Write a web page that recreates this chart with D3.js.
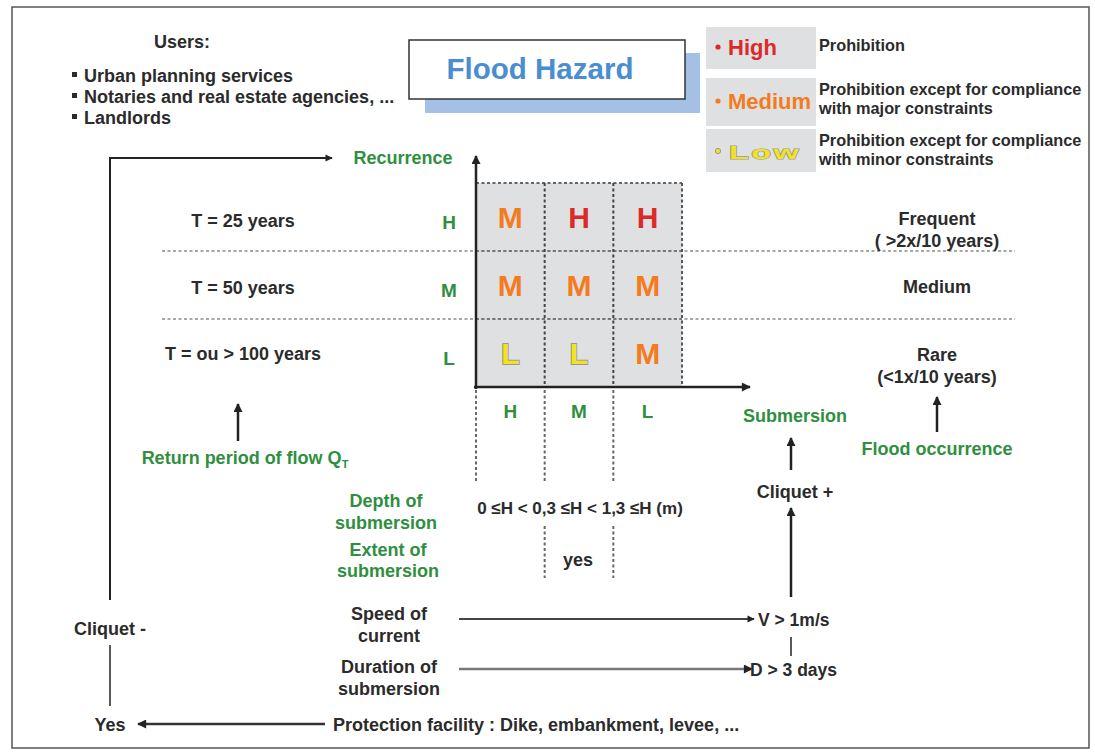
<!DOCTYPE html>
<html><head><meta charset="utf-8">
<script src="https://cdn.jsdelivr.net/npm/d3@7"></script>
<style>
body{margin:0;background:#fff;}
svg text{font-family:"Liberation Sans",Arial,sans-serif;font-weight:bold;}
</style></head>
<body><svg id="c" width="1095" height="752"></svg>
<script>
// ---- data ----
const users = ["Urban planning services","Notaries and real estate agencies, ...","Landlords"];
const recurrence = ["H","M","L"];          // rows, top to bottom
const submersion = ["H","M","L"];          // columns, left to right
const hazard = [["M","H","H"],["M","M","M"],["L","L","M"]];
const returnPeriods = ["T = 25 years","T = 50 years","T = ou > 100 years"];
const occurrence = [["Frequent","( >2x/10 years)"],["Medium"],["Rare","(<1x/10 years)"]];
const legendLevels = ["High","Medium","Low"];
const legendDesc = [["Prohibition"],["Prohibition except for compliance","with major constraints"],["Prohibition except for compliance","with minor constraints"]];
const levelColor = {H:"#dc2a2a", M:"#f47b20", L:"#f2e41c"};
const legendColor = ["#dc2a2a","#f47b20","#f2e41c"];

const svg = d3.select("#c");
const dark = "#2b2b2b", green = "#2f8f3f";

const defs = svg.append("defs");
defs.append("marker").attr("id","ah").attr("viewBox","0 0 10 10").attr("refX",9).attr("refY",5)
  .attr("markerWidth",5).attr("markerHeight",3.6).attr("orient","auto-start-reverse")
  .attr("markerUnits","strokeWidth")
  .append("path").attr("d","M0,0L10,5L0,10z").attr("fill","#222");

function txt(s,x,y,opt){
  opt = opt||{};
  return svg.append("text").attr("x",x).attr("y",y).attr("text-anchor",opt.anchor||"middle")
    .attr("font-size",opt.size||18).attr("fill",opt.fill||dark).text(s);
}
function arrow(x1,y1,x2,y2,w,col){
  return svg.append("line").attr("x1",x1).attr("y1",y1).attr("x2",x2).attr("y2",y2)
    .attr("stroke",col||"#222").attr("stroke-width",w||2.5).attr("marker-end","url(#ah)");
}

// outer border
svg.append("rect").attr("x",12).attr("y",7).attr("width",1077).attr("height",741)
  .attr("fill","none").attr("stroke","#555").attr("stroke-width",1.5);

// users block
txt("Users:",182,48);
users.forEach((u,i)=>{
  svg.append("rect").attr("x",72).attr("y",72+i*21).attr("width",5).attr("height",5).attr("fill",dark);
  txt(u,84,81.5+i*21,{anchor:"start"});
});

// Flood Hazard title box
svg.append("rect").attr("x",425).attr("y",53).attr("width",275).attr("height",60).attr("fill","#a4c0e4");
svg.append("rect").attr("x",409).attr("y",40).attr("width",276).attr("height",59).attr("fill","#fff")
  .attr("stroke","#333").attr("stroke-width",1.5);
txt("Flood Hazard",540,79,{size:29.5,fill:"#4a8dd0"});

// legend
const lgY = [27,78,129], lgH=[42,48,43], lgBase=[55,109,159];
legendLevels.forEach((lv,i)=>{
  svg.append("rect").attr("x",706).attr("y",lgY[i]).attr("width",110).attr("height",lgH[i]).attr("fill","#dfe0e2");
  svg.append("circle").attr("cx",718).attr("cy",lgBase[i]-8).attr("r",2.6).attr("fill",legendColor[i])
    .attr("stroke",i===2?"#999":"none");
  if(i===2){
    svg.append("text").attr("transform",`translate(729,${lgBase[i]}) scale(1.7,1)`)
      .attr("font-size",19).attr("letter-spacing",1.5).attr("fill",legendColor[i])
      .attr("stroke","#999").attr("stroke-width",1.2).attr("paint-order","stroke").text(lv);
  } else txt(lv,728,lgBase[i],{anchor:"start",size:22,fill:legendColor[i]});
  legendDesc[i].forEach((s,j)=>{
    txt(s,819,(legendDesc[i].length===1?51:lgY[i]+17+j*19),{anchor:"start",size:16.3});
  });
});

// matrix scales
const x = d3.scaleBand().domain(submersion).range([476,682]);
const y = d3.scaleBand().domain(recurrence).range([183,387]);
const cx = d=>x(d)+x.bandwidth()/2, cy = d=>y(d)+y.bandwidth()/2;
const dash = "3,2.5";

svg.append("rect").attr("x",476).attr("y",183).attr("width",206).attr("height",204).attr("fill","#dfe0e2");
[1,2].forEach(k=>{
  const yy = y.range()[0]+k*y.step();
  svg.append("line").attr("x1",162).attr("x2",1015).attr("y1",yy).attr("y2",yy)
   .attr("stroke","#a8a8a8").attr("stroke-width",2).attr("stroke-dasharray",dash);
  svg.append("line").attr("x1",476).attr("x2",682).attr("y1",yy).attr("y2",yy)
   .attr("stroke","#777").attr("stroke-width",2).attr("stroke-dasharray",dash);
});
svg.append("line").attr("x1",476).attr("x2",682).attr("y1",183).attr("y2",183).attr("stroke","#666").attr("stroke-width",2).attr("stroke-dasharray",dash);
svg.append("line").attr("x1",682).attr("x2",682).attr("y1",183).attr("y2",387).attr("stroke","#555").attr("stroke-width",2).attr("stroke-dasharray",dash);
submersion.forEach((c,i)=>{
  const xx = x(c);
  if(i>0) svg.append("line").attr("x1",xx).attr("x2",xx).attr("y1",183).attr("y2",387).attr("stroke","#444").attr("stroke-width",2).attr("stroke-dasharray",dash);
  svg.append("line").attr("x1",xx).attr("x2",xx).attr("y1",390).attr("y2",482).attr("stroke","#666").attr("stroke-width",2).attr("stroke-dasharray",dash);
  if(i>0) svg.append("line").attr("x1",xx).attr("x2",xx).attr("y1",526).attr("y2",578).attr("stroke","#666").attr("stroke-width",2).attr("stroke-dasharray",dash);
});
recurrence.forEach((r,ri)=>{
  submersion.forEach((c,ci)=>{
    const v = hazard[ri][ci];
    const t = txt(v,cx(c),cy(r)+11,{size:30,fill:levelColor[v]});
    if(v==="L") t.attr("stroke","#999").attr("stroke-width",2).attr("paint-order","stroke");
  });
});
// axes
arrow(476,389,476,156,2.5);
arrow(474,387,750,387,2.5);
recurrence.forEach(r=>txt(r,449,cy(r)+12,{fill:green,size:19}));
submersion.forEach(c=>txt(c,cx(c),418,{fill:green,size:19}));
txt("Recurrence",403,163.5,{fill:green});
txt("Submersion",795,421.5,{fill:green});

// left: return period
returnPeriods.forEach((t,i)=>txt(t,243,cy(recurrence[i])+10-i*1.5));
arrow(238,441,238,404,2.5);
const rp = txt("Return period of flow Q",245,463.5,{fill:green}).text(null);
rp.append("tspan").text("Return period of flow Q");
rp.append("tspan").attr("font-size",11).attr("dy",4).text("T");

// right: flood occurrence
occurrence.forEach((arr,i)=>{
  arr.forEach((s,j)=>txt(s,937,cy(recurrence[i])+7.5+j*22));
});
arrow(937,432,937,397,2.5);
txt("Flood occurrence",937,454.5,{fill:green});

// depth / extent
txt("Depth of",386,506.5,{fill:green});
txt("submersion",386,528.5,{fill:green});
txt("Extent of",388,555.5,{fill:green});
txt("submersion",388,576.5,{fill:green});
txt("0 \u2264H < 0,3 \u2264H < 1,3 \u2264H  (m)",580,513.5,{size:17});
txt("yes",578,565.5);

// submersion chain
arrow(791,470,791,438,2.5);
txt("Cliquet +",795,497.5);
arrow(791,597,791,508,2.5);
txt("V > 1m/s",758,625.5,{anchor:"start",size:17.5});
svg.append("line").attr("x1",791).attr("x2",791).attr("y1",637).attr("y2",656).attr("stroke","#222").attr("stroke-width",1.5);
txt("D > 3 days",750,675.5,{anchor:"start",size:17.5});
txt("Speed of",389,619.5);
txt("current",389,641.5);
txt("Duration of",389,672.5);
txt("submersion",389,694.5);
arrow(459,619,754,619,2,"#444");
arrow(459,669,752,669,2.5,"#777");

// left loop
svg.append("path").attr("d","M110,600 L110,158 L332,158").attr("fill","none").attr("stroke","#222").attr("stroke-width",2).attr("marker-end","url(#ah)");
svg.append("line").attr("x1",110).attr("x2",110).attr("y1",645).attr("y2",706).attr("stroke","#222").attr("stroke-width",1.5);
txt("Cliquet -",110,634.5);
txt("Yes",110,730.5);
arrow(325,724,138,724,2.5,"#333");
txt("Protection facility : Dike, embankment, levee, ...",333,730.5,{anchor:"start"});
</script></body></html>
